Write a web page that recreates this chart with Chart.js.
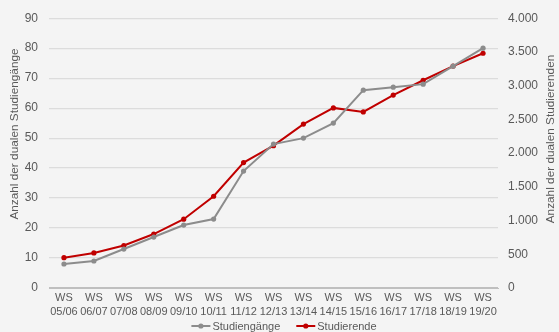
<!DOCTYPE html>
<html>
<head>
<meta charset="utf-8">
<script src="https://cdn.jsdelivr.net/npm/chart.js@4/dist/chart.umd.min.js"></script>
<style>
  html, body { margin: 0; padding: 0; background: #f4f4f4; }
  #wrap { width: 559px; height: 332px; }
</style>
</head>
<body>
<div id="wrap"><canvas id="c" width="559" height="332"></canvas></div>
<script>
// Semesters (winter terms)
const semesters = [
  ['WS', '05/06'], ['WS', '06/07'], ['WS', '07/08'], ['WS', '08/09'], ['WS', '09/10'],
  ['WS', '10/11'], ['WS', '11/12'], ['WS', '12/13'], ['WS', '13/14'], ['WS', '14/15'],
  ['WS', '15/16'], ['WS', '16/17'], ['WS', '17/18'], ['WS', '18/19'], ['WS', '19/20']
];
// Number of dual study programmes (left axis)
const studiengaenge = [8, 9, 13, 17, 21, 23, 39, 48, 50, 55, 66, 67, 68, 74, 80];
// Number of dual students (right axis)
const studierende = [450, 520, 630, 800, 1020, 1360, 1860, 2110, 2430, 2670, 2610, 2860, 3080, 3290, 3480];

const leftTitle = 'Anzahl der dualen Studiengänge';
const rightTitle = 'Anzahl der dualen Studierenden';

const GREY = '#8c8c8c';
const RED = '#c00000';
const TEXT = '#595959';
const FONT = "'Liberation Sans', Arial, sans-serif";

function fmtThousands(v) {
  return String(v).replace(/\B(?=(\d{3})+(?!\d))/g, '.');
}

// Both axis titles read bottom-to-top
const axisTitles = {
  id: 'axisTitles',
  afterDraw(chart) {
    const { ctx } = chart;
    ctx.save();
    ctx.font = '11.8px ' + FONT;
    ctx.fillStyle = TEXT;
    ctx.textAlign = 'center';
    ctx.textBaseline = 'middle';
    [[15, 134, leftTitle], [551, 139, rightTitle]].forEach(([x, y, t]) => {
      ctx.save();
      ctx.translate(x, y);
      ctx.rotate(-Math.PI / 2);
      ctx.fillText(t, 0, 0);
      ctx.restore();
    });
    ctx.restore();
  }
};

// Legend row under the axis: short line with a marker, then the series name
const lineLegend = {
  id: 'lineLegend',
  afterDraw(chart) {
    const { ctx } = chart;
    const y = 326;
    const sw = 19, gap = 2, itemGap = 16;
    ctx.save();
    ctx.font = '11px ' + FONT;
    ctx.textBaseline = 'middle';
    ctx.textAlign = 'left';
    const items = chart.data.datasets.map(ds => ({ ds, w: ctx.measureText(ds.label).width }));
    const total = items.reduce((a, it) => a + sw + gap + it.w, 0) + itemGap * (items.length - 1);
    let x = 284 - total / 2;
    items.forEach(({ ds, w }) => {
      ctx.strokeStyle = ds.borderColor;
      ctx.lineWidth = 2;
      ctx.beginPath(); ctx.moveTo(x, y); ctx.lineTo(x + sw, y); ctx.stroke();
      ctx.fillStyle = ds.borderColor;
      ctx.beginPath(); ctx.arc(x + sw / 2, y, 2.6, 0, Math.PI * 2); ctx.fill();
      ctx.fillStyle = TEXT;
      ctx.fillText(ds.label, x + sw + gap, y + 0.5);
      x += sw + gap + w + itemGap;
    });
    ctx.restore();
  }
};

const bg = {
  id: 'bg',
  beforeDraw(chart) {
    const { ctx, width, height } = chart;
    ctx.save();
    ctx.fillStyle = '#f4f4f4';
    ctx.fillRect(0, 0, width, height);
    ctx.restore();
  }
};

new Chart(document.getElementById('c'), {
  type: 'line',
  data: {
    labels: semesters,
    datasets: [
      {
        label: 'Studiengänge',
        data: studiengaenge,
        yAxisID: 'y',
        borderColor: GREY,
        backgroundColor: GREY,
        borderWidth: 2,
        pointRadius: 2.6,
        pointHoverRadius: 2.6,
        pointBorderWidth: 0,
        tension: 0
      },
      {
        label: 'Studierende',
        data: studierende,
        yAxisID: 'y2',
        borderColor: RED,
        backgroundColor: RED,
        borderWidth: 2,
        pointRadius: 2.6,
        pointHoverRadius: 2.6,
        pointBorderWidth: 0,
        tension: 0
      }
    ]
  },
  options: {
    responsive: false,
    animation: false,
    events: [],
    layout: { padding: { top: 11, left: 0, right: 0, bottom: 14 } },
    plugins: {
      tooltip: { enabled: false },
      legend: { display: false }
    },
    scales: {
      x: {
        offset: true,
        grid: { display: false, drawTicks: false },
        border: { display: true, color: '#bfbfbf', width: 1 },
        ticks: {
          color: TEXT,
          font: { size: 11, family: FONT, lineHeight: 1.25 },
          padding: 3,
          maxRotation: 0,
          autoSkip: false
        },
        afterFit(s) { s.height = 30; }
      },
      y: {
        position: 'left',
        min: 0,
        max: 90,
        ticks: {
          stepSize: 10,
          color: TEXT,
          font: { size: 12, family: FONT },
          padding: 11
        },
        grid: {
          drawTicks: false,
          color: (c) => c.tick && c.tick.value === 0 ? '#bfbfbf' : '#dcdcdc',
          lineWidth: 1.2
        },
        border: { display: false },
        afterFit(s) { s.width = 49; }
      },
      y2: {
        position: 'right',
        min: 0,
        max: 4000,
        ticks: {
          stepSize: 500,
          color: TEXT,
          font: { size: 12, family: FONT },
          padding: 10,
          callback: (v) => fmtThousands(v)
        },
        grid: { display: false, drawTicks: false },
        border: { display: false },
        afterFit(s) { s.width = 61; }
      }
    }
  },
  plugins: [bg, axisTitles, lineLegend]
});
</script>
</body>
</html>
